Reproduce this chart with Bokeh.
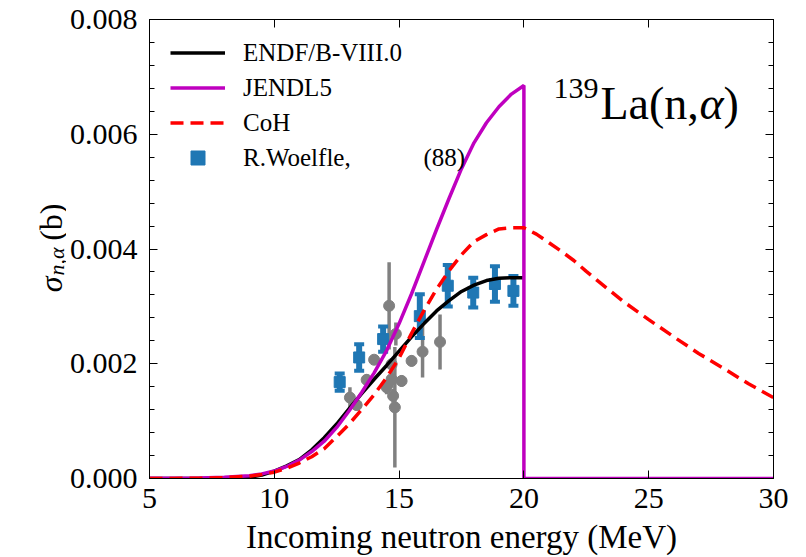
import numpy as np
from bokeh.plotting import figure
from bokeh.layouts import row
from bokeh.models import (ColumnDataSource, Legend, LegendItem, LinearAxis, Range1d,
                          SingleIntervalTicker, PrintfTickFormatter, Label,
                          CustomJSTickFormatter)
from bokeh.embed import file_html
from bokeh.resources import INLINE

FONT = "Liberation Serif"

# ---------------- data ----------------
endf_E = [5, 6, 7, 8, 8.5, 9, 9.5, 10, 10.5, 11, 11.5, 12, 12.5, 13, 13.5, 14, 14.5,
          15, 15.5, 16, 16.5, 17, 17.5, 18, 18.5, 19, 19.5, 20]
endf_sig = [0, 0, 0, 0, 0.000005, 0.00002, 0.00006, 0.00013, 0.00022, 0.00033, 0.00050,
            0.00071, 0.00095, 0.00122, 0.00148, 0.00173, 0.00197, 0.00222, 0.00247,
            0.00270, 0.00292, 0.00310, 0.00326, 0.00337, 0.00345, 0.00349, 0.00350, 0.00350]

jendl_E = [5, 6, 7, 8, 9, 9.5, 10, 10.5, 11, 11.5, 12, 12.5, 13, 13.5, 14, 14.5, 15,
           15.5, 16, 16.5, 17, 17.5, 18, 18.5, 19, 19.5, 20, 20, 30]
jendl_sig = [0.000003, 0.000005, 0.00001, 0.00002, 0.00005, 0.00008, 0.00013, 0.00021,
             0.00032, 0.00047, 0.00065, 0.00089, 0.00118, 0.00150, 0.00184, 0.00223,
             0.00270, 0.00322, 0.00378, 0.00434, 0.00488, 0.00540, 0.00585, 0.00620,
             0.00648, 0.00670, 0.00685, 0.0, 0.0]

coh_E = [5, 6, 7, 8, 9, 9.5, 10, 10.5, 11, 11.5, 12, 12.5, 13, 13.5, 14, 14.5, 15, 15.5,
         16, 16.5, 17, 17.5, 18, 18.5, 19, 19.5, 20, 20.5, 21, 21.5, 22, 22.5, 23, 24,
         25, 26, 27, 28, 29, 30]
coh_sig = [0, 0.000002, 0.000005, 0.000015, 0.00004, 0.00007, 0.00011, 0.00018, 0.00027,
           0.00038, 0.00052, 0.00073, 0.00095, 0.00120, 0.00146, 0.00176, 0.00210,
           0.00253, 0.00293, 0.00330, 0.00362, 0.00390, 0.00413, 0.00425, 0.00435,
           0.00437, 0.00437, 0.00426, 0.00411, 0.00396, 0.00380, 0.00361, 0.00343,
           0.00308, 0.00277, 0.00247, 0.00218, 0.00192, 0.00165, 0.00141]

woelfle_E = [12.62, 13.40, 14.36, 15.83, 16.95, 17.97, 18.84, 19.58]
woelfle_sig = [0.00168, 0.00211, 0.00243, 0.00283, 0.00336, 0.00324, 0.00339, 0.00327]
woelfle_err = [0.00015, 0.00023, 0.00022, 0.00038, 0.00036, 0.00026, 0.00031, 0.00026]

other_E = [13.03, 13.30, 13.70, 14.00, 14.50, 14.60, 14.70, 14.70, 14.76, 14.83, 14.87,
           15.10, 15.50, 15.94, 16.64]
other_sig = [0.00141, 0.00128, 0.00172, 0.00207, 0.00159, 0.00301, 0.00173, 0.00199,
             0.00144, 0.00124, 0.00252, 0.00170, 0.00205, 0.00221, 0.00238]
other_err = [0.00018, 0.00010, 0.00010, 0.00008, 0.00012, 0.00076, 0.00015, 0.00010,
             0.00012, 0.00105, 0.00020, 0.00010, 0.00010, 0.00045, 0.00048]

x_ticks_interval = 5
y_ticks_interval = 0.002

# ---------------- layout sizes ----------------
TOTAL_W, H = 806, 557
LW = 66                      # narrow left strip that carries the y title
W = TOTAL_W - LW

p = figure(width=W, height=H, x_range=Range1d(5, 30), y_range=Range1d(0, 0.008),
           output_backend="svg", toolbar_location=None,
           min_border_left=149 - LW, min_border_right=33, min_border_top=19,
           min_border_bottom=H - 478)
p.grid.visible = False
p.outline_line_color = "black"
p.outline_line_width = 1
p.background_fill_color = "white"
p.border_fill_color = "white"


def style_axis(ax, show_labels=True, minor=True):
    ax.axis_line_color = "black"
    ax.axis_line_width = 1
    ax.major_tick_in = 8
    ax.major_tick_out = 0
    ax.minor_tick_in = 5 if minor else 0
    ax.minor_tick_out = 0
    ax.major_tick_line_color = "black"
    ax.minor_tick_line_color = "black"
    ax.major_label_text_font = FONT
    ax.major_label_text_color = "black"
    ax.major_label_text_font_size = "30px"
    if not show_labels:
        ax.formatter = CustomJSTickFormatter(code="return ''")
        ax.major_label_standoff = 0


p.xaxis.ticker = SingleIntervalTicker(interval=x_ticks_interval, num_minor_ticks=0)
p.yaxis.ticker = SingleIntervalTicker(interval=y_ticks_interval, num_minor_ticks=5)
p.yaxis.formatter = PrintfTickFormatter(format="%.3f")
style_axis(p.xaxis[0], True, False)
style_axis(p.yaxis[0], True, True)
p.xaxis.major_label_standoff = 10
p.yaxis.major_label_standoff = 12

p.xaxis.axis_label = "Incoming neutron energy (MeV)"
p.xaxis.axis_label_text_font = FONT
p.xaxis.axis_label_text_font_style = "normal"
p.xaxis.axis_label_text_font_size = "33px"
p.xaxis.axis_label_text_color = "black"
p.xaxis.axis_label_standoff = 8

top = LinearAxis(ticker=SingleIntervalTicker(interval=x_ticks_interval, num_minor_ticks=0))
style_axis(top, False, False)
p.add_layout(top, "above")
right = LinearAxis(ticker=SingleIntervalTicker(interval=y_ticks_interval, num_minor_ticks=5))
style_axis(right, False, True)
p.add_layout(right, "right")

# ---------------- experimental data ----------------
GRAY = "#808080"
BLUE = "#1f77b4"

osrc = ColumnDataSource(dict(x=other_E, y=other_sig,
                             lo=[s - e for s, e in zip(other_sig, other_err)],
                             hi=[s + e for s, e in zip(other_sig, other_err)]))
p.segment(x0="x", y0="lo", x1="x", y1="hi", source=osrc, line_color=GRAY, line_width=3.5)
p.scatter("x", "y", source=osrc, marker="circle", size=11, fill_color=GRAY, line_color=GRAY)

wsrc = ColumnDataSource(dict(x=woelfle_E, y=woelfle_sig,
                             lo=[s - e for s, e in zip(woelfle_sig, woelfle_err)],
                             hi=[s + e for s, e in zip(woelfle_sig, woelfle_err)]))
p.segment(x0="x", y0="lo", x1="x", y1="hi", source=wsrc, line_color=BLUE, line_width=6)
p.scatter("x", "lo", source=wsrc, marker="dash", size=10, line_width=4, line_color=BLUE)
p.scatter("x", "hi", source=wsrc, marker="dash", size=10, line_width=4, line_color=BLUE)
r_w = p.scatter("x", "y", source=wsrc, marker="square", size=11,
                fill_color=BLUE, line_color=BLUE)

# ---------------- evaluations ----------------
r_endf = p.line(endf_E, endf_sig, line_color="black", line_width=3.5)
r_jendl = p.line(jendl_E, jendl_sig, line_color="#bf00bf", line_width=3.5)
r_coh = p.line(coh_E, coh_sig, line_color="red", line_width=3.5, line_dash="13 7")

legend = Legend(items=[
    LegendItem(label="ENDF/B-VIII.0", renderers=[r_endf]),
    LegendItem(label="JENDL5", renderers=[r_jendl]),
    LegendItem(label="CoH", renderers=[r_coh]),
    LegendItem(label="R.Woelfle,", renderers=[r_w]),
], location=(21, 303))
legend.border_line_color = None
legend.background_fill_alpha = 0
legend.label_text_font = FONT
legend.label_text_font_size = "25px"
legend.label_text_color = "black"
legend.glyph_width = 55
legend.glyph_height = 35
legend.label_height = 35
legend.spacing = 0
legend.padding = 10
legend.margin = 0
legend.label_standoff = 18
p.add_layout(legend)


def lab(fig, x, y, t, size, style="normal", angle=0, align="left", baseline="alphabetic"):
    fig.add_layout(Label(x=x, y=y, x_units="screen", y_units="screen", text=t,
                         text_font=FONT, text_font_size=size, text_font_style=style,
                         angle=angle, text_align=align, text_baseline=baseline,
                         text_color="black"))


lab(p, 274, 321, "(88)", "25px", baseline="middle")

# title
lab(p, 404, 390, "139", "30px")
lab(p, 451, 375, "La(n,", "46px")
lab(p, 550, 375, "α", "46px", "italic")
lab(p, 574, 375, ")", "46px")

# ---------------- left strip with the y title ----------------
lf = figure(width=LW, height=H, x_range=Range1d(0, 1), y_range=Range1d(0, 1),
            output_backend="svg", toolbar_location=None,
            x_axis_type=None, y_axis_type=None,
            min_border_left=0, min_border_right=0, min_border_top=0,
            min_border_bottom=0)
lf.grid.visible = False
lf.outline_line_color = None
lf.background_fill_color = "white"
lf.border_fill_color = "white"

ang = np.pi / 2
lab(lf, 50, 478 - 276, "σ", "32px", "italic", angle=ang, align="right")
lab(lf, 56, 478 - 247, "n,α", "22px", "italic", angle=ang, align="right")
lab(lf, 50, 478 - 203, "(b)", "32px", angle=ang, align="right")

layout = row(lf, p)
open("out.html", "w").write(file_html(layout, INLINE))
